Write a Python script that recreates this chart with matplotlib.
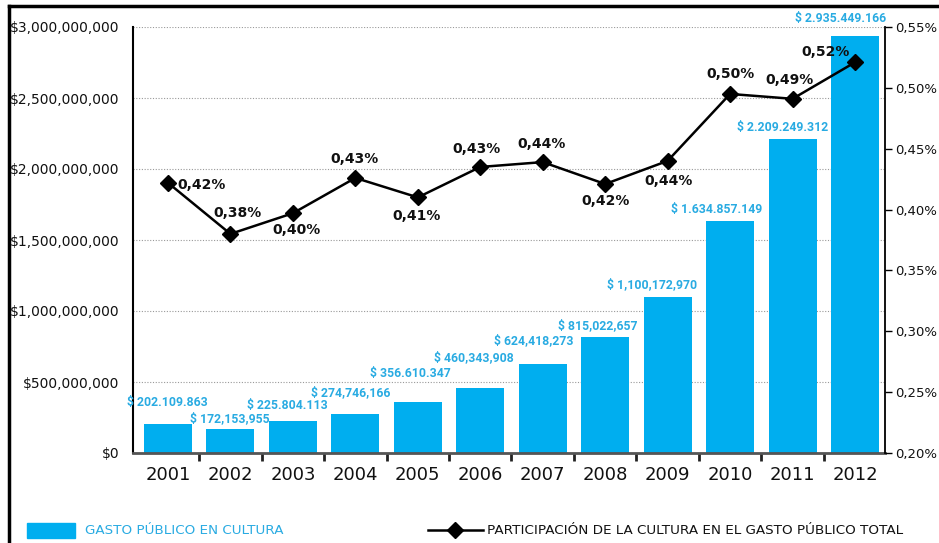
import matplotlib
matplotlib.use('Agg')
import matplotlib.pyplot as plt
from matplotlib.lines import Line2D
from matplotlib.patches import Rectangle
from matplotlib.ticker import FuncFormatter, MultipleLocator

plt.rcParams['font.family'] = ['DejaVu Sans']

# datos
years = ['2001', '2002', '2003', '2004', '2005', '2006',
         '2007', '2008', '2009', '2010', '2011', '2012']
gasto = [202109863, 172153955, 225804113, 274746166, 356610347, 460343908,
         624418273, 815022657, 1100172970, 1634857149, 2209249312, 2935449166]
gasto_labels = ['$ 202.109.863', '$ 172,153,955', '$ 225.804.113', '$ 274,746,166',
                '$ 356.610.347', '$ 460,343,908', '$ 624,418,273', '$ 815,022,657',
                '$ 1,100,172,970', '$ 1.634.857.149', '$ 2.209.249.312', '$ 2.935.449.166']
participacion = [0.422, 0.380, 0.397, 0.426, 0.410, 0.435,
                 0.439, 0.421, 0.440, 0.495, 0.491, 0.521]
part_labels = ['0,42%', '0,38%', '0,40%', '0,43%', '0,41%', '0,43%',
               '0,44%', '0,42%', '0,44%', '0,50%', '0,49%', '0,52%']

BLUE = '#00AEEF'
BLUE_TXT = '#29ABE2'

# desplazamientos de las etiquetas (pixeles)
bar_off = [(-1, 22), (-1, 10), (-6, 15), (-5, 21), (-7, 29), (-6, 30),
           (-9, 24), (-7, 12), (-16, 12), (-13, 11), (-10, 12), (-14, 18)]
line_off = [(34, -2), (7, 21), (4, -17), (-1, 19), (-1, -19), (-4, 18),
            (-1, 18), (0, -17), (1, -20), (0, 20), (-3, 19), (-29, 10)]

W, H = 939, 543
fig = plt.figure(figsize=(W / 100, H / 100), dpi=100)
ax = fig.add_axes([133 / W, 1 - 453 / H, (885 - 133) / W, (453 - 27) / H])
ax2 = ax.twinx()

x = list(range(len(years)))
ax.bar(x, gasto, width=0.77, color=BLUE, zorder=2)
ax.set_xlim(-0.56, 11.48)
ax.set_ylim(0, 3000000000)
ax.yaxis.set_major_locator(MultipleLocator(500000000))
ax.yaxis.set_major_formatter(FuncFormatter(lambda v, p: '${:,.0f}'.format(v)))
ax.grid(axis='y', color='#999999', linestyle=(0, (1, 1.5)), linewidth=0.8, zorder=0)
ax.set_axisbelow(True)

for i in x:
    dx, dy = bar_off[i]
    ax.annotate(gasto_labels[i], (i, gasto[i]), xytext=(dx, dy), textcoords='offset pixels',
                ha='center', va='center', color=BLUE_TXT, fontsize=8.8, fontweight='bold',
                family='Roboto')

ax2.plot(x, participacion, color='black', linewidth=1.8, marker='D', markersize=8.5,
         markerfacecolor='black', zorder=3)
ax2.set_ylim(0.20, 0.55)
ax2.yaxis.set_major_locator(MultipleLocator(0.05))
ax2.yaxis.set_major_formatter(FuncFormatter(lambda v, p: '{:.2f}%'.format(v).replace('.', ',')))
for i in x:
    dx, dy = line_off[i]
    ax2.annotate(part_labels[i], (i, participacion[i]), xytext=(dx, dy), textcoords='offset pixels',
                 ha='center', va='center', color='#111111', fontsize=10, fontweight='bold')

# ejes
for a in (ax, ax2):
    a.spines['top'].set_visible(False)
ax.spines['right'].set_visible(False)
ax2.spines['left'].set_visible(False)
ax2.spines['bottom'].set_visible(False)
ax.spines['left'].set_color('black')
ax.spines['left'].set_linewidth(1.5)
ax.spines['bottom'].set_color('#555555')
ax.spines['bottom'].set_linewidth(2)
ax2.spines['right'].set_color('black')
ax2.spines['right'].set_linewidth(1.3)

ax.set_xticks(x)
ax.set_xticklabels(years, fontsize=13, color='#111111')
ax.set_xticks([i + 0.5 for i in x[:-1]], minor=True)
ax.tick_params(axis='x', which='major', length=0, pad=9)
ax.tick_params(axis='x', which='minor', length=6, width=2, color='#222222')
ax.tick_params(axis='y', length=0, pad=10, labelsize=10, labelcolor='#111111')
ax2.tick_params(axis='y', length=5, width=1, pad=2, labelsize=9.5, labelcolor='#111111')

# marco
fig.add_artist(Line2D([9 / W, 1], [1 - 6 / H, 1 - 6 / H], color='black', linewidth=2.5))
fig.add_artist(Line2D([9 / W, 9 / W], [1 - 6 / H, 0], color='black', linewidth=2.5))

# leyenda
fig.add_artist(Rectangle((27 / W, 1 - 538 / H), 48 / W, 15 / H, color=BLUE,
                         transform=fig.transFigure))
fig.text(85 / W, 1 - 530 / H, 'GASTO PÚBLICO EN CULTURA', color=BLUE_TXT,
         fontsize=9.7, va='center', ha='left')
fig.add_artist(Line2D([428 / W, 483 / W], [1 - 530 / H, 1 - 530 / H], color='black',
                      linewidth=1.8))
fig.add_artist(Line2D([455 / W], [1 - 530 / H], color='black', marker='D', markersize=8))
fig.text(487 / W, 1 - 530 / H, 'PARTICIPACIÓN DE LA CULTURA EN EL GASTO PÚBLICO TOTAL',
         color='#111111', fontsize=9.7, va='center', ha='left')

fig.savefig('out.png', dpi=100)
